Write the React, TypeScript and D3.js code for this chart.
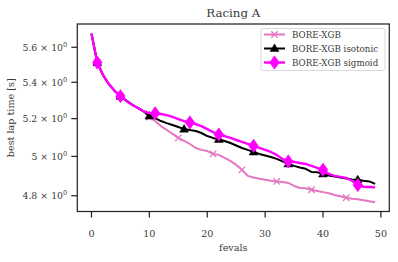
import React from "react";
import * as d3 from "d3";

const seriesNames = ["BORE-XGB", "BORE-XGB isotonic", "BORE-XGB sigmoid"];

const boreXgb = [
  5.680, 5.512, 5.440, 5.390, 5.352, 5.323, 5.298, 5.276, 5.258, 5.240,
  5.209, 5.187, 5.160, 5.139, 5.118, 5.097, 5.081, 5.065, 5.044, 5.034,
  5.028, 5.013, 5.008, 4.992, 4.977, 4.956, 4.931, 4.900, 4.892, 4.885,
  4.880, 4.875, 4.872, 4.869, 4.864, 4.849, 4.839, 4.837, 4.830, 4.824,
  4.818, 4.812, 4.804, 4.797, 4.790, 4.785, 4.782, 4.777, 4.772, 4.768,
];
const boreXgbIsotonic = [
  5.680, 5.512, 5.440, 5.390, 5.352, 5.323, 5.298, 5.276, 5.258, 5.240,
  5.214, 5.203, 5.187, 5.176, 5.166, 5.155, 5.144, 5.139, 5.134, 5.123,
  5.107, 5.097, 5.089, 5.081, 5.070, 5.057, 5.044, 5.034, 5.023, 5.013,
  5.005, 4.997, 4.987, 4.974, 4.961, 4.951, 4.943, 4.936, 4.920, 4.918,
  4.910, 4.902, 4.897, 4.892, 4.887, 4.882, 4.880, 4.875, 4.872, 4.859,
];
const boreXgbSigmoid = [
  5.680, 5.512, 5.440, 5.390, 5.352, 5.323, 5.298, 5.276, 5.258, 5.240,
  5.230, 5.229, 5.225, 5.219, 5.209, 5.198, 5.187, 5.179, 5.171, 5.160,
  5.144, 5.128, 5.115, 5.107, 5.097, 5.086, 5.076, 5.065, 5.055, 5.044,
  5.034, 5.023, 5.008, 4.987, 4.974, 4.972, 4.966, 4.961, 4.951, 4.941,
  4.931, 4.910, 4.900, 4.895, 4.890, 4.875, 4.854, 4.845, 4.844, 4.842,
];
const markIdxXgb = [1, 5, 10, 15, 21, 26, 32, 38, 44];
const markIdxIso = [1, 5, 10, 16, 22, 28, 34, 40, 46];
const markIdxSig = [1, 5, 11, 17, 22, 28, 34, 40, 46];

const xTicks = [0, 10, 20, 30, 40, 50];
const yTicks = [4.8, 5.0, 5.2, 5.4, 5.6];
const yTickMantissa = ["4.8", "5", "5.2", "5.4", "5.6"];

const W = 398;
const H = 262;
const L = 77.3, R = 389.3, T = 24, B = 211.5;
const FONT = "'DejaVu Serif', 'Liberation Serif', serif";
const TXT = "#3a3a3a";

const x = d3.scaleLinear().domain([-2.45, 51.45]).range([L, R]);
const y = d3.scaleLog().domain([4.722, 5.737]).range([B, T]);

function Marker({ kind, cx, cy, color }: { kind: string; cx: number; cy: number; color: string }) {
  if (kind === "x") {
    const s = 3.2;
    return (
      <path
        d={`M${cx - s},${cy - s}L${cx + s},${cy + s}M${cx - s},${cy + s}L${cx + s},${cy - s}`}
        stroke={color}
        strokeWidth={1.3}
        fill="none"
      />
    );
  }
  if (kind === "tri") {
    const sym = d3.symbol().type(d3.symbolTriangle).size(34)();
    return <path d={sym as string} transform={`translate(${cx},${cy + 0.5})`} fill={color} stroke={color} strokeWidth={0.5} />;
  }
  const sym = d3.symbol().type(d3.symbolDiamond).size(52)();
  return <path d={sym as string} transform={`translate(${cx},${cy}) scale(1.25,1)`} fill={color} stroke={color} strokeWidth={0.5} />;
}

const series = [
  { name: seriesNames[0], data: boreXgb, marks: markIdxXgb, color: "#e377c2", width: 2, kind: "x" },
  { name: seriesNames[1], data: boreXgbIsotonic, marks: markIdxIso, color: "#000000", width: 2, kind: "tri" },
  { name: seriesNames[2], data: boreXgbSigmoid, marks: markIdxSig, color: "#ff00ff", width: 2.4, kind: "dia" },
];

export default function App() {
  const line = d3
    .line<number>()
    .x((_, i) => x(i))
    .y((d) => y(d));

  return (
    <div style={{ position: "fixed", left: 0, top: 0 }}>
      <svg width={W} height={H} style={{ display: "block", background: "#fff" }}>
        <text x={(L + R) / 2} y={17} textAnchor="middle" fontFamily={FONT} fontSize={11.8} fill={TXT}>
          Racing A
        </text>

        <defs>
          <clipPath id="plotclip">
            <rect x={L} y={T} width={R - L} height={B - T} />
          </clipPath>
        </defs>
        <g clipPath="url(#plotclip)">
          {series.map((s) => (
            <g key={s.name}>
              <path d={line(s.data) as string} fill="none" stroke={s.color} strokeWidth={s.width} strokeLinejoin="round" />
              {s.marks.map((i) => (
                <Marker key={i} kind={s.kind} cx={x(i)} cy={y(s.data[i])} color={s.color} />
              ))}
            </g>
          ))}
        </g>

        <rect x={L} y={T} width={R - L} height={B - T} fill="none" stroke="#262626" strokeWidth={1.25} />

        {xTicks.map((t) => (
          <g key={t}>
            <line x1={x(t)} x2={x(t)} y1={B} y2={B + 6} stroke="#262626" strokeWidth={1.25} />
            <text x={x(t)} y={B + 25} textAnchor="middle" fontFamily={FONT} fontSize={9.6} fill={TXT}>
              {t}
            </text>
          </g>
        ))}
        {yTicks.map((t, i) => (
          <g key={t}>
            <line x1={L - 6} x2={L} y1={y(t)} y2={y(t)} stroke="#262626" strokeWidth={1.25} />
            <text x={L - 10} y={y(t) + 3.5} textAnchor="end" fontFamily={FONT} fontSize={9.4} fill={TXT}>
              {yTickMantissa[i]} × 10
              <tspan dy={-4} fontSize={6.6}>0</tspan>
            </text>
          </g>
        ))}

        <text x={(L + R) / 2} y={251} textAnchor="middle" fontFamily={FONT} fontSize={9.6} fill={TXT}>
          fevals
        </text>
        <text
          transform={`translate(14,${(T + B) / 2}) rotate(-90)`}
          textAnchor="middle"
          fontFamily={FONT}
          fontSize={9.6}
          fill={TXT}
        >
          best lap time [s]
        </text>

        <rect x={261} y={28.5} width={124} height={42} rx={2} fill="#fff" fillOpacity={0.8} stroke="#d0d0d0" strokeWidth={0.8} />
        {series.map((s, i) => {
          const cy = 34.5 + i * 14;
          return (
            <g key={s.name}>
              <line x1={264} x2={285} y1={cy} y2={cy} stroke={s.color} strokeWidth={s.width} />
              <Marker kind={s.kind} cx={274.5} cy={cy} color={s.color} />
              <text x={292} y={cy + 3} fontFamily={FONT} fontSize={8.7} fill={TXT}>
                {s.name}
              </text>
            </g>
          );
        })}
      </svg>
    </div>
  );
}
